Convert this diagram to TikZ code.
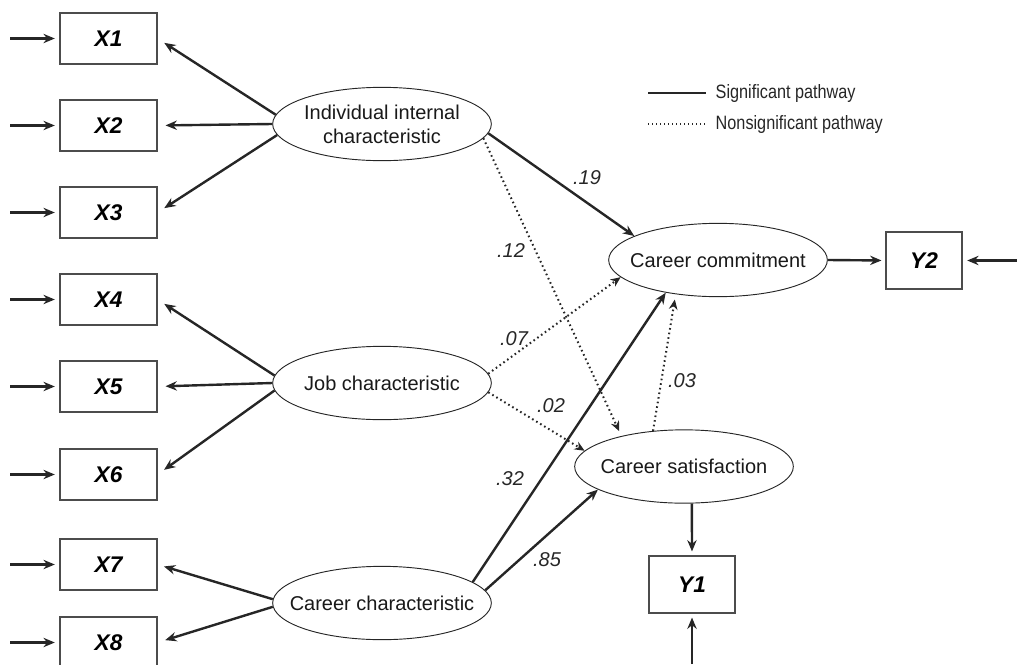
\documentclass[tikz,border=0pt]{standalone}
\usepackage{fontspec}
\setmainfont{Liberation Sans}
\newfontfamily\legendfont[FakeStretch=0.84]{Liberation Sans}
\usetikzlibrary{arrows.meta,shapes.geometric}
\begin{document}
\begin{tikzpicture}[x=0.75pt,y=-0.75pt,
  obsbox/.style={draw=black!70,line width=0.8pt,minimum width=72.75pt,minimum height=38.25pt,inner sep=0pt,font=\fontsize{17}{20}\selectfont\bfseries\itshape},
  ybox/.style={draw=black!70,line width=0.8pt,minimum height=42.75pt,inner sep=0pt,font=\fontsize{17}{20}\selectfont\bfseries\itshape},
  latent/.style={ellipse,draw=black!85,line width=0.7pt,minimum width=164pt,minimum height=55pt,inner sep=0pt},
  lattext/.style={align=center,inner sep=0pt,font=\fontsize{15}{18}\selectfont,text=black!90},
  sig/.style={line width=1.8pt,black!85,-{Stealth[length=8.5pt,width=7pt]}},
  nonsig/.style={line width=1.5pt,black!85,dash pattern=on 1.2pt off 2.3pt,-{Stealth[length=7.5pt,width=6.5pt]}},
  coef/.style={font=\fontsize{15}{18}\selectfont\itshape,text=black!85},
  legtext/.style={anchor=west,font=\fontsize{14.5}{17}\selectfont\legendfont,text=black!85}]
\useasboundingbox (0,0) rectangle (1017,664);
\begin{scope}
\clip (0,0) rectangle (1017,664);
% observed indicators
\node[obsbox] (x1) at (108.5,38.5) {X1};
\node[obsbox] (x2) at (108.5,125.5) {X2};
\node[obsbox] (x3) at (108.5,212.5) {X3};
\node[obsbox] (x4) at (108.5,299.5) {X4};
\node[obsbox] (x5) at (108.5,386.5) {X5};
\node[obsbox] (x6) at (108.5,474.5) {X6};
\node[obsbox] (x7) at (108.5,564.5) {X7};
\node[obsbox] (x8) at (108.5,642.5) {X8};
\node[ybox,minimum width=57pt] (y2) at (924,260.5) {Y2};
\node[ybox,minimum width=64.5pt] (y1) at (692,584.5) {Y1};
% latent variables
\node[latent] (iic) at (382,124) {};
\node[lattext] (iict) at (iic) {Individual internal\\characteristic};
\node[latent] (job) at (382,383) {};
\node[lattext] (jobt) at (job) {Job characteristic};
\node[latent] (car) at (382,603) {};
\node[lattext] (cart) at (car) {Career characteristic};
\node[latent] (cc) at (718,260) {};
\node[lattext] (cct) at (cc) {Career commitment};
\node[latent] (cs) at (684,466.5) {};
\node[lattext] (cst) at (cs) {Career satisfaction};
% error inputs
\foreach \i/\yy in {1/38.5,2/125.5,3/212.5,4/299.5,5/386.5,6/474.5,7/564.5,8/642.5}{
  \coordinate (e\i) at (10,\yy);
  \draw[sig,shorten >=3.5pt] (e\i) -- (x\i.west);
}
\coordinate (ey2) at (1017,260.5);
\draw[sig,shorten >=3.5pt] (ey2) -- (y2.east);
\coordinate (ey1) at (692,664);
\draw[sig,shorten >=3pt] (ey1) -- (y1.south);
% loadings
\draw[sig,shorten >=6pt] (iic.175) -- (x1.east);
\draw[sig,shorten >=6pt] (iic.180) -- (x2.east);
\draw[sig,shorten >=6pt] (iic.186) -- (x3.east);
\draw[sig,shorten >=6pt] (job.176) -- (x4.east);
\draw[sig,shorten >=6pt] (job.180) -- (x5.east);
\draw[sig,shorten >=6pt] (job.184) -- (x6.east);
\draw[sig,shorten >=5pt] (car.178) -- (x7.east);
\draw[sig,shorten >=6pt] (car.182) -- (x8.east);
% structural paths
\draw[sig] (iic.-5) -- (cc.164);
\draw[nonsig,shorten >=4pt] (iic.-8) -- (cs.154);
\draw[nonsig] (job.5) -- (cc.190);
\draw[nonsig] (job.-5) -- (cs.171);
\draw[sig] (car.13) -- (cc.212);
\draw[sig] (car.7) -- (cs.195);
\draw[nonsig,shorten >=4pt] (cs.131) -- (cc.219);
\draw[sig,shorten >=3pt] (cc.east) -- (y2.west);
\draw[sig,shorten >=3pt] (cs.-78) -- (y1.north);
% coefficients
\node[coef] (c19) at (587,178) {.19};
\node[coef] (c12) at (511,251) {.12};
\node[coef] (c07) at (514,339) {.07};
\node[coef] (c03) at (682,381) {.03};
\node[coef] (c02) at (551,406) {.02};
\node[coef] (c32) at (510,479) {.32};
\node[coef] (c85) at (547,560) {.85};
% legend
\coordinate (la) at (648,93);
\coordinate (lb) at (706,93);
\coordinate (lc) at (648,124);
\coordinate (ld) at (706,124);
\draw[line width=1.6pt,black!85] (la) -- (lb);
\draw[line width=1.3pt,black!85,dash pattern=on 1.1pt off 1.9pt] (lc) -- (ld);
\node[legtext] (l1) at (711,93) {Significant pathway};
\node[legtext] (l2) at (711,124) {Nonsignificant pathway};
\end{scope}
\end{tikzpicture}
\end{document}
